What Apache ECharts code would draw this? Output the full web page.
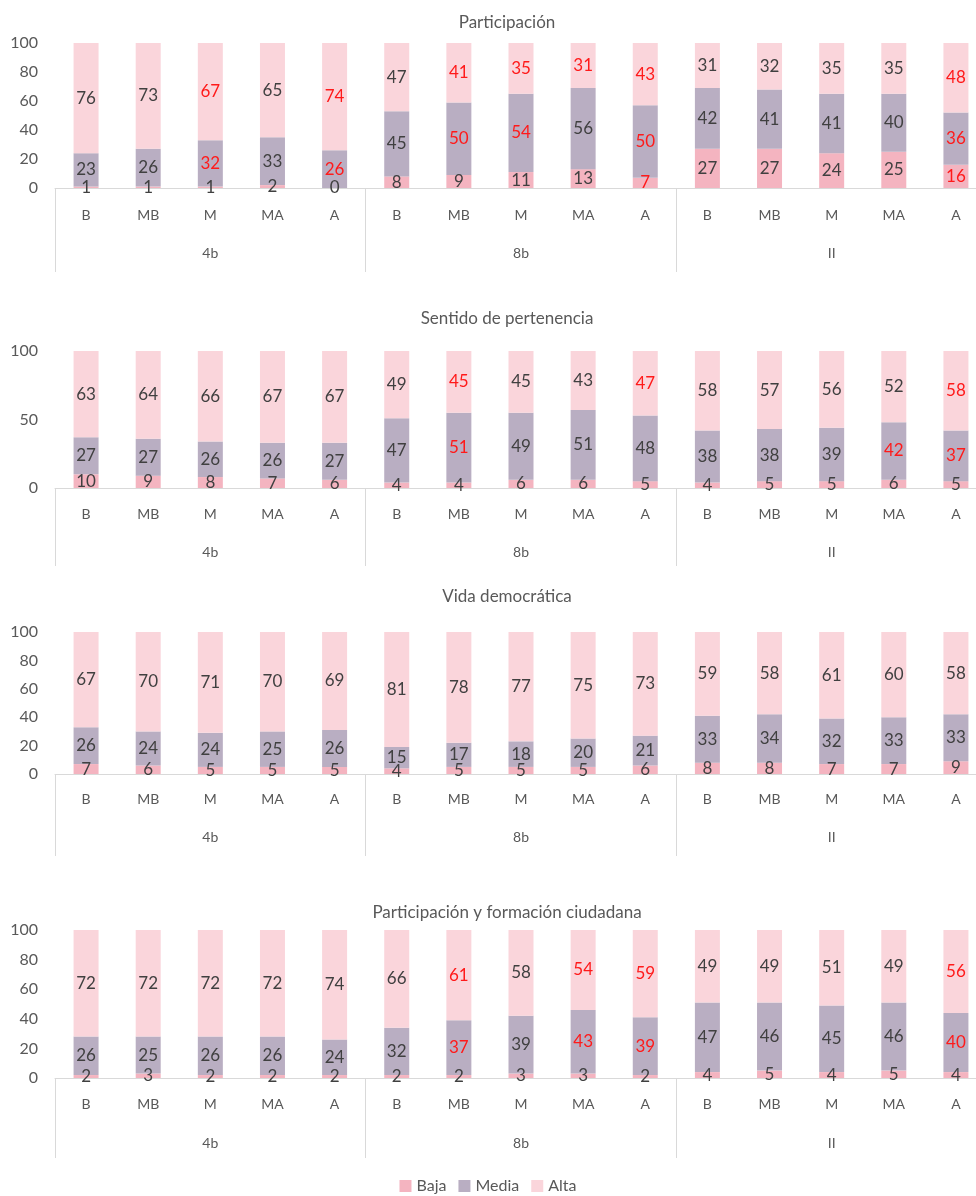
<!DOCTYPE html>
<html><head><meta charset="utf-8">
<script src="https://cdn.jsdelivr.net/npm/echarts@6/dist/echarts.min.js"></script>
<style>html,body{margin:0;padding:0;background:#fff}#c{width:976px;height:1196px}</style>
</head><body><div id="c"></div>
<script>
const categories = ['B','MB','M','MA','A','B','MB','M','MA','A','B','MB','M','MA','A'];
const groups = ['4b','8b','II'];
const titles = ['Participación','Sentido de pertenencia','Vida democrática','Participación y formación ciudadana'];
const seriesNames = ['Baja','Media','Alta'];

const partBaja  = [1,1,1,2,0, 8,9,11,13,7, 27,27,24,25,16];
const partMedia = [23,26,32,33,26, 45,50,54,56,50, 42,41,41,40,36];
const partAlta  = [76,73,67,65,74, 47,41,35,31,43, 31,32,35,35,48];

const pertBaja  = [10,9,8,7,6, 4,4,6,6,5, 4,5,5,6,5];
const pertMedia = [27,27,26,26,27, 47,51,49,51,48, 38,38,39,42,37];
const pertAlta  = [63,64,66,67,67, 49,45,45,43,47, 58,57,56,52,58];

const vidaBaja  = [7,6,5,5,5, 4,5,5,5,6, 8,8,7,7,9];
const vidaMedia = [26,24,24,25,26, 15,17,18,20,21, 33,34,32,33,33];
const vidaAlta  = [67,70,71,70,69, 81,78,77,75,73, 59,58,61,60,58];

const formBaja  = [2,3,2,2,2, 2,2,3,3,2, 4,5,4,5,4];
const formMedia = [26,25,26,26,24, 32,37,39,43,39, 47,46,45,46,40];
const formAlta  = [72,72,72,72,74, 66,61,58,54,59, 49,49,51,49,56];

// indices of labels highlighted in red
const partRed = [[9,14],[2,4,6,7,9,14],[2,4,6,7,8,9,14]];
const pertRed = [[],[6,13,14],[6,9,14]];
const vidaRed = [[],[],[]];
const formRed = [[],[6,8,9,14],[6,8,9,14]];

const yIntervals = [20,50,20,20];

const panels = [
  {vals:[partBaja,partMedia,partAlta], red:partRed},
  {vals:[pertBaja,pertMedia,pertAlta], red:pertRed},
  {vals:[vidaBaja,vidaMedia,vidaAlta], red:vidaRed},
  {vals:[formBaja,formMedia,formAlta], red:formRed}
];

const layout = [
  {top:43, height:145, titleTop:9, catMargin:20, grpMargin:58, tick:84},
  {top:351, height:137, titleTop:305, catMargin:19, grpMargin:57, tick:78},
  {top:632, height:142, titleTop:583, catMargin:18, grpMargin:56, tick:82},
  {top:930, height:148, titleTop:899, catMargin:19, grpMargin:58, tick:80}
];
const colors = ['#f4b4c0','#b9aec2','#fad5db'];
const FONT = 'Lato, "Liberation Sans", sans-serif';
const txt = '#595959';

const option = {
  animation:false,
  textStyle:{fontFamily:FONT},
  title:[], grid:[], xAxis:[], yAxis:[], series:[],
  legend:{
    data:seriesNames, top:1178, left:'center', padding:0, itemWidth:12, itemHeight:12, itemGap:12,
    textStyle:{fontFamily:FONT, fontSize:16, color:txt}, icon:'rect'
  }
};

layout.forEach((L,i)=>{
  option.title.push({text:titles[i], left:502, top:L.titleTop, textAlign:'center',
    textStyle:{fontFamily:FONT, fontSize:17, fontWeight:'normal', color:txt}});
  option.grid.push({left:55, right:-11, top:L.top, height:L.height, outerBoundsMode:'none', containLabel:false});
  option.xAxis.push({type:'category', gridIndex:i, data:categories, position:'bottom',
    axisLine:{show:false}, axisTick:{show:false},
    axisLabel:{color:txt, fontSize:14, margin:L.catMargin, fontFamily:FONT}});
  option.xAxis.push({type:'category', gridIndex:i, data:groups, position:'bottom',
    axisLine:{show:true, lineStyle:{color:'#d9d9d9', width:1}},
    axisTick:{show:true, length:L.tick, lineStyle:{color:'#d9d9d9'}},
    axisLabel:{color:txt, fontSize:14, margin:L.grpMargin, fontFamily:FONT}});
  option.yAxis.push({type:'value', gridIndex:i, min:0, max:100, interval:yIntervals[i],
    axisLine:{show:false}, axisTick:{show:false}, splitLine:{show:false},
    axisLabel:{color:txt, fontSize:16, margin:17, fontFamily:FONT}});
  panels[i].vals.forEach((arr,s)=>{
    option.series.push({
      name:seriesNames[s], type:'bar', stack:'p'+i, xAxisIndex:i*2, yAxisIndex:i,
      barWidth:25, itemStyle:{color:colors[s]},
      label:{show:true, position:'inside', fontSize:17, fontFamily:FONT, color:'#404040'},
      data:arr.map((v,k)=>({value:v, label:{color: panels[i].red[s].includes(k) ? '#ff1a1a' : '#404040'}}))
    });
  });
});

echarts.init(document.getElementById('c'),null,{renderer:'canvas'}).setOption(option);
</script></body></html>
